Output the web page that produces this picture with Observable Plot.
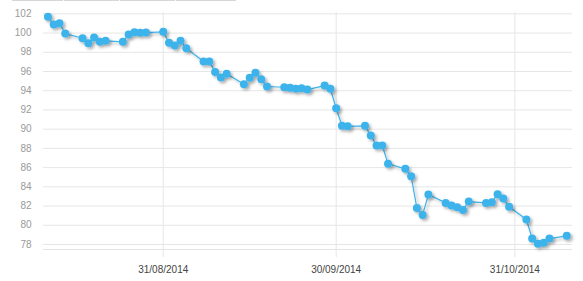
<!DOCTYPE html>
<html>
<head>
<meta charset="utf-8">
<script src="https://cdn.jsdelivr.net/npm/d3@7"></script>
<script src="https://cdn.jsdelivr.net/npm/@observablehq/plot@0.6"></script>
<style>
  html, body { margin: 0; padding: 0; background: #fff; }
  #wrap { position: relative; width: 583px; height: 281px; overflow: hidden; font-family: "Liberation Sans", Arial, sans-serif; }
  .btn { position: absolute; top: -10px; height: 11px; border: 1px solid #d6d6d6; background: #f7f7f7; box-sizing: border-box; }
</style>
</head>
<body>
<div id="wrap">
  <div class="btn" style="left:12px;width:51px"></div>
  <div class="btn" style="left:64px;width:55px"></div>
  <div class="btn" style="left:120px;width:55px"></div>
  <div class="btn" style="left:176px;width:60px"></div>
</div>
<script>
const dates = [
  "2014-08-11","2014-08-12","2014-08-13","2014-08-14","2014-08-17","2014-08-18","2014-08-19","2014-08-20","2014-08-21",
  "2014-08-24","2014-08-25","2014-08-26","2014-08-27","2014-08-28","2014-08-31","2014-09-01","2014-09-02","2014-09-03","2014-09-04",
  "2014-09-07","2014-09-08","2014-09-09","2014-09-10","2014-09-11","2014-09-14","2014-09-15","2014-09-16","2014-09-17","2014-09-18",
  "2014-09-21","2014-09-22","2014-09-23","2014-09-24","2014-09-25","2014-09-28","2014-09-29","2014-09-30","2014-10-01","2014-10-02",
  "2014-10-05","2014-10-06","2014-10-07","2014-10-08","2014-10-09","2014-10-12","2014-10-13","2014-10-14","2014-10-15","2014-10-16",
  "2014-10-19","2014-10-20","2014-10-21","2014-10-22","2014-10-23","2014-10-26","2014-10-27","2014-10-28","2014-10-29","2014-10-30",
  "2014-11-02","2014-11-03","2014-11-04","2014-11-05","2014-11-06","2014-11-09"
];
const values = [
  101.69,100.89,101.02,99.95,99.46,98.94,99.53,99.09,99.19,
  99.09,99.85,100.09,100.02,100.05,100.13,98.98,98.70,99.19,98.42,
  97.04,97.04,95.96,95.37,95.76,94.67,95.34,95.86,95.19,94.44,
  94.36,94.30,94.20,94.26,94.12,94.54,94.20,92.18,90.35,90.30,
  90.35,89.34,88.30,88.30,86.40,85.87,85.10,81.81,81.08,83.20,
  82.33,82.05,81.88,81.60,82.47,82.33,82.40,83.23,82.78,81.92,
  80.60,78.62,78.07,78.17,78.62,78.90
];
const xTickLabels = ["2014-08-31","2014-09-30","2014-10-31"];
const yTicks = [78,80,82,84,86,88,90,92,94,96,98,100,102];

const data = dates.map((d, i) => ({date: new Date(d + "T00:00:00Z"), value: values[i]}));
const xTicks = xTickLabels.map(d => new Date(d + "T00:00:00Z"));
const fmt = d3.utcFormat("%d/%m/%Y");
const color = "#3db3ec";
const yDomain = [77.48, 102.14];

const chart = Plot.plot({
  width: 583,
  height: 281,
  marginTop: 12,
  marginBottom: 32,
  marginLeft: 43,
  marginRight: 11,
  style: {fontFamily: "'Liberation Sans', Arial, sans-serif", fontSize: "10px", background: "transparent"},
  x: {type: "utc", domain: [new Date(Date.UTC(2014,7,10,5,30)), new Date(Date.UTC(2014,10,10,0,0))]},
  y: {domain: yDomain},
  marks: [
    Plot.gridY(yTicks, {stroke: "#e6e6e6", strokeOpacity: 1}),
    Plot.gridX(xTicks, {stroke: "#e6e6e6", strokeOpacity: 1}),
    Plot.ruleY([yDomain[0]], {stroke: "#e3e3e3"}),
    Plot.axisY(yTicks, {tickSize: 0, tickPadding: 12, fill: "#9a9a9a", label: null}),
    Plot.axisX(xTicks, {tickSize: 8, tickPadding: 8, stroke: "#e6e6e6", fill: "#444", tickFormat: fmt, label: null}),
    Plot.line(data, {x: "date", y: "value", stroke: color, strokeWidth: 1.2}),
    Plot.dot(data, {x: "date", y: "value", r: 4, fill: color, stroke: "none"})
  ]
});

// drop shadow like the original
const svg = d3.select(chart);
const defs = svg.insert("defs", ":first-child");
const f = defs.append("filter").attr("id", "shadow").attr("x", "-20%").attr("y", "-20%").attr("width", "140%").attr("height", "140%");
f.append("feDropShadow").attr("dx", 2).attr("dy", 2).attr("stdDeviation", 1.5).attr("flood-color", "#000").attr("flood-opacity", 0.3);
svg.selectAll("g[aria-label='line'], g[aria-label='dot']").attr("filter", "url(#shadow)");

document.getElementById("wrap").appendChild(chart);
</script>
</body>
</html>
